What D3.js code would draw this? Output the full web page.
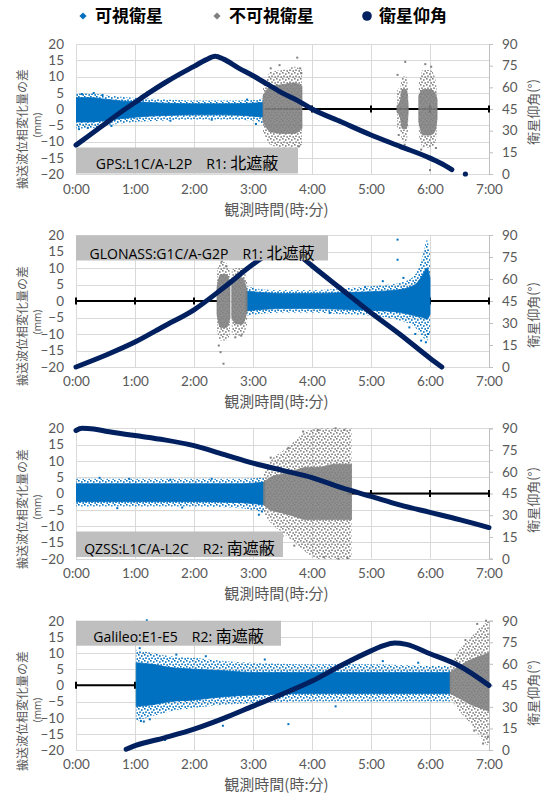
<!DOCTYPE html>
<html><head><meta charset="utf-8">
<script src="https://cdn.jsdelivr.net/npm/d3@7"></script>
<style>body{margin:0;background:#fff}svg{display:block}</style>
</head><body>
<svg id="c" width="549" height="794"></svg>
<script>
// ---------------- DATA ----------------
const hourTicks = [0,1,2,3,4,5,6,7];
const hourLabels = ["0:00","1:00","2:00","3:00","4:00","5:00","6:00","7:00"];
const diffTicks = [-20,-15,-10,-5,0,5,10,15,20];
const elevTicks = [0,15,30,45,60,75,90];
const legendLabels = ["可視衛星","不可視衛星","衛星仰角"];
const xTitle = "観測時間(時:分)";
const yTitle = "搬送波位相変化量の差";
const yUnit = "(mm)";
const y2Title = "衛星仰角(°)";
const panelSignals = ["GPS:L1C/A-L2P","GLONASS:G1C/A-G2P","QZSS:L1C/A-L2C","Galileo:E1-E5"];
const panelCodes = ["R1: ","R1: ","R2: ","R2: "];
const panelMasks = ["北遮蔽","北遮蔽","南遮蔽","南遮蔽"];

// elevation [hour, deg]
const gpsElevation = [[0,20],[0.4,32],[0.8,44],[1,49.5],[1.25,56.5],[1.5,63],[1.75,69],[2,74.5],[2.2,79],[2.36,81.5],[2.5,79.5],[2.75,73.5],[3,68],[3.25,62],[3.5,56],[3.75,51],[4,45],[4.5,36],[5,27],[5.5,19],[6,11],[6.25,6],[6.37,3]];
const gpsElevationLone = [[6.6,0]];
const glonassElevation = [[0,0],[0.5,8],[1,17],[1.5,28],[2,39],[2.5,54],[3,70],[3.25,77],[3.45,81],[3.65,79],[3.85,74],[4,69],[4.5,53],[5,37],[5.5,22],[6,6],[6.2,0]];
const qzssElevation = [[0,88.5],[0.1,90],[0.3,89.5],[0.5,88],[1,85],[1.5,82],[2,78],[2.5,72],[3,66],[3.5,61],[4,56],[4.5,49],[5,43],[5.5,37],[6,32],[6.5,27],[7,21.5]];
const galileoElevation = [[0.85,0.5],[1,3],[1.5,8.5],[2,14.5],[2.5,22],[3,30.5],[3.5,39],[4,48],[4.5,59],[5,69],[5.2,72.5],[5.4,74.5],[5.6,73.5],[6,67],[6.5,58.5],[7,45]];

// scatter clouds [hour, outerLow, coreLow, coreHigh, outerHigh] (mm)
const gpsVisibleBands = [[[0,-6,-4,3.5,4.8],[0.25,-6,-4,3.5,4.8],[0.5,-5,-3.5,3,4.2],[0.75,-4.5,-3,2.5,3.8],[1,-4,-2.5,2.2,3.5],[1.5,-3.5,-2,1.8,3],[2,-3.2,-1.8,1.6,2.6],[2.5,-3.2,-1.8,1.6,2.6],[3,-3.5,-2.2,1.8,2.8],[3.17,-4.5,-2.5,2,3.2]]];
const gpsInvisibleBands = [
  [[3.17,-7,-4,4,7],[3.3,-11,-7,7,11.5],[3.5,-12,-7.5,7.5,12],[3.7,-12,-7.5,8,13],[3.83,-11,-6,7,12]],
  [[5.44,-6,-1,1,6],[5.5,-7,-3,3,7],[5.53,-10,-6,6,10],[5.6,-10,-6,6,10],[5.63,-6,-1,1,5]],
  [[5.81,-8,-4,4,8],[5.88,-12,-8,6,12],[6.0,-12,-8,6,12],[6.08,-11,-7,5,10],[6.12,-7,-3,3,6]]
];
const glonassVisibleBands = [[[2.88,-4.5,-3,3,4.5],[3.2,-3.8,-2.5,2.5,3.5],[3.5,-3.5,-2.3,2.3,3.3],[4,-3.5,-2.3,2.3,3.3],[4.5,-4,-2.5,2.5,3.8],[5,-4.5,-2.8,2.8,4.5],[5.5,-6,-3.5,3.5,5.5],[5.75,-8,-4.5,5,8],[5.88,-11,-5,8,14],[5.95,-12,-5.5,10,18.5],[6.0,-10,-4,7,14]]];
const glonassInvisibleBands = [
  [[2.39,-9,-4,4,9],[2.45,-12,-8,8,12],[2.55,-12,-8,8,11.5],[2.61,-10,-5,5,9]],
  [[2.64,-10,-5,5,9.5],[2.72,-10.5,-7,7,10],[2.82,-10.5,-7,7,10],[2.9,-7,-3,3,6]]
];
const qzssVisibleBands = [[[0,-4,-2.5,3,4.5],[1,-4,-2.5,3,4.5],[2,-4,-2.5,3,4.5],[2.8,-4.5,-2.8,3,4.5],[3.2,-6,-3.5,3.5,5]]];
const qzssInvisibleBands = [[[3.18,-6,-3.5,3.5,6],[3.3,-9,-5,5,10],[3.5,-12,-6,6,13],[3.7,-15,-7,7,16],[3.9,-18,-8,8,19],[4.1,-20,-8,8,20],[4.4,-20,-8,9,20],[4.67,-20,-8,9,20]]];
const galileoVisibleBands = [[[1.02,-11,-6.5,7,11],[1.3,-9.5,-6,6.5,10],[1.6,-8,-5,5.5,9],[2,-7,-4.5,5,8.5],[2.5,-6,-3.5,4.5,7.5],[3,-5.5,-3,4,7],[4,-5,-2.5,4,6.5],[5,-5,-2.5,4,6.5],[6,-5,-2.5,4,6],[6.34,-5,-2.5,4,6]]];
const galileoInvisibleBands = [[[6.34,-4,-2.5,4,6],[6.5,-8,-4,6,11],[6.7,-12,-6,8,15],[6.85,-16,-7,9,18],[7.0,-19,-8,10,20]]];

// isolated points [hour, mm]
const gpsVisibleOutliers = [[0.1,4.6],[0.3,4.9],[0.45,4.3],[0.05,-6.2],[0.2,-5.8],[0.6,-5.2],[1.1,3.8],[1.6,-3.6],[2.3,-3.3],[2.9,2.9],[3.05,-4.6]];
const gpsInvisibleOutliers = [[3.2,7.5],[3.3,12.5],[3.45,13.5],[3.75,15.8],[3.8,12.5],[3.82,11],[3.6,-13.5],[3.4,-15],[3.3,-12.5],[3.78,-11.5],[5.45,10.5],[5.47,-8],[5.58,14.5],[5.57,-11],[5.85,-12.5],[5.92,13.8],[6.02,13],[6.05,-15.5],[6.0,-18.8],[6.1,-12]];
const glonassVisibleOutliers = [[5.45,18.6],[5.45,12.5],[5.2,6],[5.55,7],[5.65,-8],[5.75,-10],[5.85,-12],[5.93,-12.5],[5.97,-10],[4.9,4.2],[4.3,-3.6]];
const glonassInvisibleOutliers = [[2.45,-15.5],[2.5,-19],[2.42,-13.5],[2.47,12],[2.55,10.5],[2.7,-11],[2.8,-10.5]];
const qzssVisibleOutliers = [[0.4,4.8],[0.9,4.5],[1.6,4.2],[2.3,4.5],[0.7,-4.5],[1.8,-4.3],[3.1,-6.5],[3.15,-5.5]];
const qzssInvisibleOutliers = [[3.3,11],[3.6,14],[3.85,19],[4.1,19.5],[4.2,-19.5],[4.45,-20],[4.6,-19.8],[4.4,20],[4.55,19.5],[3.7,-16],[3.5,-13]];
const galileoVisibleOutliers = [[1.2,20.2],[1.08,11.5],[1.1,-11],[1.15,-11.2],[1.25,-10.5],[1.51,-16.9],[2.49,-12.5],[1.7,9.5],[2.2,9],[3.6,-12],[4.4,-6.5],[5.2,7.5],[5.8,7],[3.2,8],[2.8,-8]];
const galileoInvisibleOutliers = [[6.6,14],[6.8,19],[6.95,20],[6.9,-18],[6.98,-16],[6.75,-14]];

// spans drawn as the zero line [startHour, endHour]
const gpsNoData = [[3.2,7]];
const glonassNoData = [[0,2.4],[5.88,7]];
const qzssNoData = [[4.6,7]];
const galileoNoData = [[0,1.02]];

// ---------------- LAYOUT / STYLE ----------------
const C = {blue:"#0070c0", gray:"#808080", navy:"#002060", grid:"#d9d9d9", text:"#595959", box:"#bfbfbf"};
const X0 = 76, X1 = 489;
const layout = [
 {top:44, bottom:174, tickBase:194, box:[76,298,147.5,173.5], boxBase:169.3, xTitleY:215, yTitleY:129, yUnitY:125, y2TitleY:112},
 {top:235, bottom:367, tickBase:386, box:[76,328,235.3,260.5], boxBase:258.7, xTitleY:407, yTitleY:326, yUnitY:322, y2TitleY:315},
 {top:428.3, bottom:558.7, tickBase:578, box:[76,283,531.5,557], boxBase:554.3, xTitleY:599, yTitleY:509, yUnitY:507, y2TitleY:500},
 {top:620.7, bottom:750, tickBase:768.5, box:[76,281,620.7,645.7], boxBase:641.7, xTitleY:789.5, yTitleY:711, yUnitY:710, y2TitleY:693}
];
const panels = [
 {elev:gpsElevation, lone:gpsElevationLone, vis:gpsVisibleBands, inv:gpsInvisibleBands, visOut:gpsVisibleOutliers, invOut:gpsInvisibleOutliers, noData:gpsNoData},
 {elev:glonassElevation, lone:[], vis:glonassVisibleBands, inv:glonassInvisibleBands, visOut:glonassVisibleOutliers, invOut:glonassInvisibleOutliers, noData:glonassNoData},
 {elev:qzssElevation, lone:[], vis:qzssVisibleBands, inv:qzssInvisibleBands, visOut:qzssVisibleOutliers, invOut:qzssInvisibleOutliers, noData:qzssNoData},
 {elev:galileoElevation, lone:[], vis:galileoVisibleBands, inv:galileoInvisibleBands, visOut:galileoVisibleOutliers, invOut:galileoInvisibleOutliers, noData:galileoNoData}
];

const LATIN = "'Open Sans','Noto Sans CJK JP',sans-serif";
const TICK = "Lato,'Open Sans',sans-serif";
const CJK = "'Noto Sans CJK JP','Open Sans',sans-serif";

const svg = d3.select("#c");
const defs = svg.append("defs");
function mkPattern(id, color){
  const p = defs.append("pattern").attr("id",id).attr("patternUnits","userSpaceOnUse").attr("width",6).attr("height",6);
  [[0,0],[3,1.2],[1.2,3.4],[4.4,4.2]].forEach(([a,b])=>p.append("rect").attr("x",a).attr("y",b).attr("width",1.6).attr("height",1.6).attr("fill",color));
}
mkPattern("pBlue", C.blue);
mkPattern("pGray", C.gray);

// legend
const lg = svg.append("g");
const legendX = [83, 217, 367];
legendLabels.forEach((t,i)=>{
  const cx = legendX[i], cy = 16;
  if(i<2){
    lg.append("path").attr("d", d3.symbol(d3.symbolSquare).size(26)())
      .attr("transform",`translate(${cx},${cy}) rotate(45)`).attr("fill", i===0?C.blue:C.gray);
  } else {
    lg.append("circle").attr("cx",cx).attr("cy",cy).attr("r",4.8).attr("fill",C.navy);
  }
  lg.append("text").attr("x",cx+12).attr("y",cy+6).attr("font-family",CJK).attr("font-size",17).attr("font-weight","bold").attr("fill","#000").text(t);
});

panels.forEach((p,i)=>drawPanel(p, layout[i], i));

function drawPanel(p, L, i){
  const g = svg.append("g");
  const x = d3.scaleLinear().domain([0,7]).range([X0,X1]);
  const y = d3.scaleLinear().domain([-20,20]).range([L.bottom,L.top]);
  const y2 = d3.scaleLinear().domain([0,90]).range([L.bottom,L.top]);
  const cid = "clip"+i;
  defs.append("clipPath").attr("id",cid).append("rect").attr("x",X0).attr("y",L.top-1.5).attr("width",X1-X0).attr("height",L.bottom-L.top+3);

  // gridlines
  const snap = v => Math.round(v)+0.5;
  g.append("g").selectAll("line").data(diffTicks).join("line")
    .attr("x1",X0).attr("x2",X1).attr("y1",d=>snap(y(d))).attr("y2",d=>snap(y(d)))
    .attr("stroke",C.grid).attr("stroke-width",1);
  g.append("g").selectAll("line").data(hourTicks.slice(0,-1)).join("line")
    .attr("x1",d=>snap(x(d))).attr("x2",d=>snap(x(d))).attr("y1",L.top).attr("y2",L.bottom)
    .attr("stroke",C.grid).attr("stroke-width",1);

  // axes
  const axL = g.append("g").attr("transform",`translate(${X0},0)`)
    .call(d3.axisLeft(y).tickValues(diffTicks).tickSize(0).tickPadding(12));
  axL.select(".domain").remove();
  axL.selectAll("text").attr("font-family",TICK).attr("font-size",13.5).attr("fill",C.text);

  const axR = g.append("g").attr("transform",`translate(${snap(X1)-0.5},0)`)
    .call(d3.axisRight(y2).tickValues(elevTicks).tickSize(4).tickPadding(9));
  axR.select(".domain").attr("stroke",C.box);
  axR.selectAll(".tick line").attr("stroke",C.box);
  axR.selectAll("text").attr("font-family",TICK).attr("font-size",13.5).attr("fill",C.text);

  const axB = g.append("g").attr("transform",`translate(0,${L.bottom})`)
    .call(d3.axisBottom(x).tickValues(hourTicks).tickFormat((d,k)=>hourLabels[k]).tickSize(0));
  axB.select(".domain").remove();
  axB.selectAll("text").attr("font-family",TICK).attr("font-size",13.5).attr("fill",C.text)
    .attr("dy",null).attr("y",L.tickBase-L.bottom);

  // titles
  g.append("text").attr("x",(X0+X1)/2-6).attr("y",L.xTitleY).attr("text-anchor","middle")
    .attr("font-family",CJK).attr("font-size",15).attr("fill",C.text).text(xTitle);
  g.append("text").attr("transform",`translate(27,${L.yTitleY}) rotate(-90)`).attr("text-anchor","middle")
    .attr("font-family",CJK).attr("font-size",12).attr("fill",C.text).text(yTitle);
  g.append("text").attr("transform",`translate(41,${L.yUnitY}) rotate(-90)`).attr("text-anchor","middle")
    .attr("font-family",LATIN).attr("font-size",10).attr("fill",C.text).text(yUnit);
  g.append("text").attr("transform",`translate(538,${L.y2TitleY}) rotate(-90)`).attr("text-anchor","middle")
    .attr("font-family",CJK).attr("font-size",13).attr("fill",C.text).text(y2Title);

  // zero (no-data) line
  const zl = g.append("g");
  const y0 = y(0);
  p.noData.forEach(s=>{
    zl.append("line").attr("x1",x(s[0])).attr("x2",x(s[1])).attr("y1",y0).attr("y2",y0).attr("stroke","#000").attr("stroke-width",2);
    hourTicks.filter(h=>h>=s[0]-1e-6 && h<=s[1]+1e-6).forEach(h=>{
      zl.append("line").attr("x1",x(h)).attr("x2",x(h)).attr("y1",y0-3.5).attr("y2",y0+3.5).attr("stroke","#000").attr("stroke-width",2);
    });
  });

  // scatter clouds
  const sc = g.append("g").attr("clip-path",`url(#${cid})`);
  const aOuter = d3.area().x(d=>x(d[0])).y0(d=>y(d[1])).y1(d=>y(d[4])).curve(d3.curveMonotoneX);
  const aCore = d3.area().x(d=>x(d[0])).y0(d=>y(d[2])).y1(d=>y(d[3])).curve(d3.curveMonotoneX);
  function cloud(bands, color, pat, op){
    bands.forEach(b=>{
      sc.append("path").attr("d",aOuter(b)).attr("fill",`url(#${pat})`);
      sc.append("path").attr("d",aCore(b)).attr("fill",color).attr("fill-opacity",op).attr("stroke",color).attr("stroke-opacity",op).attr("stroke-width",0.8);
    });
  }
  cloud(p.vis, C.blue, "pBlue", 1);
  cloud(p.inv, C.gray, "pGray", 0.88);
  function pts(arr, color){
    sc.append("g").selectAll("rect").data(arr).join("rect")
      .attr("x",d=>x(d[0])-1).attr("y",d=>y(d[1])-1).attr("width",2).attr("height",2).attr("fill",color);
  }
  pts(p.visOut, C.blue);
  pts(p.invOut, C.gray);

  // elevation
  const ln = d3.line().x(d=>x(d[0])).y(d=>y2(d[1])).curve(d3.curveMonotoneX);
  g.append("path").attr("d",ln(p.elev)).attr("fill","none").attr("stroke",C.navy).attr("stroke-width",5).attr("stroke-linecap","round").attr("stroke-linejoin","round");
  g.append("g").selectAll("circle").data(p.lone).join("circle")
    .attr("cx",d=>x(d[0])).attr("cy",d=>y2(d[1])).attr("r",2.6).attr("fill",C.navy);

  // label box
  const [bx0,bx1,by0,by1] = L.box;
  g.append("rect").attr("x",bx0).attr("y",by0).attr("width",bx1-bx0).attr("height",by1-by0).attr("fill",C.box);
  const t = g.append("text").attr("x",(bx0+bx1)/2).attr("y",L.boxBase).attr("text-anchor","middle").attr("fill","#000")
    .attr("font-family",LATIN).attr("font-size",14).attr("xml:space","preserve").style("white-space","pre");
  t.append("tspan").text(panelSignals[i] + "　" + panelCodes[i]);
  t.append("tspan").attr("font-family",CJK).attr("font-size",16).text(panelMasks[i]);
}
</script>
</body></html>
